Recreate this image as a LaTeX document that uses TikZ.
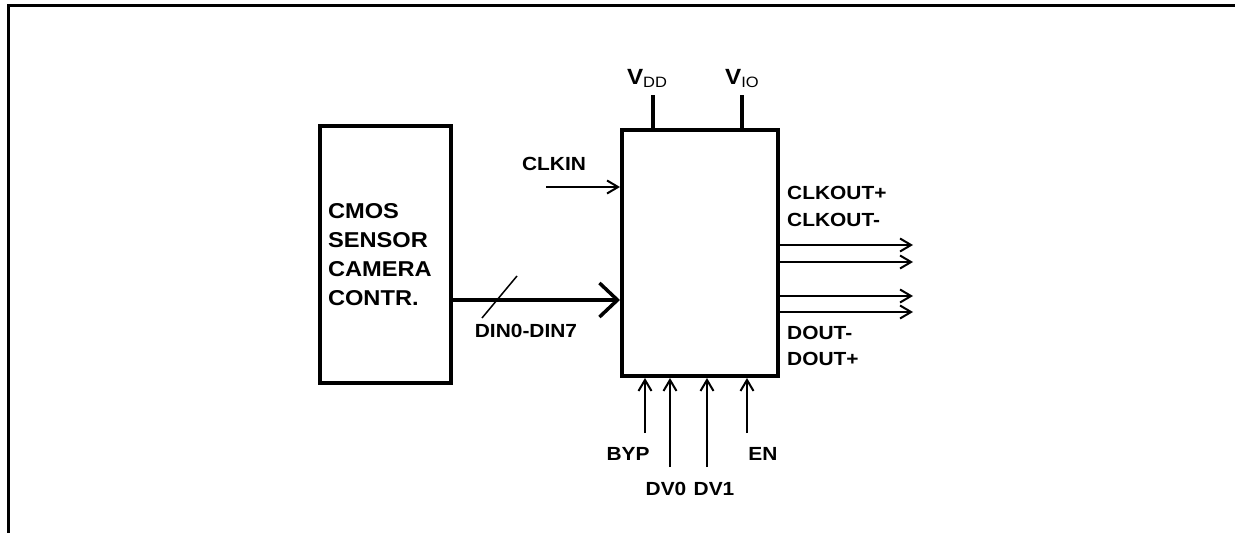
\documentclass[tikz,border=0pt]{standalone}
\usepackage{fontspec}
\setmainfont[FakeStretch=1.1]{Liberation Sans}
\usetikzlibrary{arrows.meta}
\begin{document}
\begin{tikzpicture}[x=1pt,y=-1pt,
    blk/.style={draw,line width=4pt,inner sep=0pt},
    lbl/.style={inner sep=0pt,font=\fontsize{19}{21}\selectfont\bfseries},
    sig/.style={line width=2.2pt,-{Straight Barb[length=11pt,width=13pt,line width=2pt]}},
    bus/.style={line width=4pt,-{Straight Barb[length=18pt,width=34pt,line width=3.5pt]}},
    pin/.style={line width=4pt}]
  \useasboundingbox (0,0) rectangle (1235,533);
  % outer frame
  \draw[line width=3pt] (8,533) -- (8,5) -- (1235,5);
  % blocks
  \node (sensor) [blk,minimum width=131pt,minimum height=257pt,align=left,
        text width=115pt,inner xsep=8pt,
        font=\fontsize{21.5}{29}\selectfont\bfseries] at (385.5,254.5)
        {CMOS\\SENSOR\\CAMERA\\CONTR.};
  \node (ser) [blk,minimum width=156pt,minimum height=246pt] at (700,253) {};
  % supply pins
  \coordinate (vdd) at (653,95);
  \coordinate (vio) at (742,95);
  \draw[pin] (vdd) -- (vdd |- ser.north);
  \draw[pin] (vio) -- (vio |- ser.north);
  \node (vddlbl) [inner sep=0pt,anchor=base] at (647,84)
        {{\fontsize{22}{22}\selectfont\bfseries V}\raisebox{-3pt}{\fontsize{15}{15}\selectfont DD}};
  \node (violbl) [inner sep=0pt,anchor=base] at (742,84)
        {{\fontsize{22}{22}\selectfont\bfseries V}\raisebox{-3pt}{\fontsize{15}{15}\selectfont IO}};
  % clock input
  \coordinate (clkin) at (546,187);
  \draw[sig] (clkin) -- (clkin -| ser.west);
  \node (clklbl) [lbl] at (554,164) {CLKIN};
  % data bus
  \coordinate (din) at (453,300);
  \draw[bus] (din) -- (din -| ser.west);
  \draw[line width=1.5pt] (482,318) -- (517,276);
  \node (dinlbl) [lbl] at (526,331) {DIN0-DIN7};
  % outputs
  \foreach \y/\n in {245/cp,262/cm,296/dm,312/dp} {
    \coordinate (\n) at (913,\y);
    \draw[sig] (ser.east |- \n) -- (\n);
  }
  \node (cplbl) [lbl,anchor=west] at (787,193) {CLKOUT+};
  \node (cmlbl) [lbl,anchor=west] at (787,220) {CLKOUT-};
  \node (dmlbl) [lbl,anchor=west] at (787,333) {DOUT-};
  \node (dplbl) [lbl,anchor=west] at (787,359) {DOUT+};
  % control inputs
  \foreach \x/\y/\n in {645/433/byp,670/467/dv0,707/467/dv1,747/433/en} {
    \coordinate (\n) at (\x,\y);
    \draw[sig] (\n) -- (\n |- ser.south);
  }
  \node (byplbl) [lbl] at (628,454) {BYP};
  \node (enlbl) [lbl] at (763,454) {EN};
  \node (dv0lbl) [lbl] at (666,489) {DV0};
  \node (dv1lbl) [lbl] at (714,489) {DV1};
\end{tikzpicture}
\end{document}
